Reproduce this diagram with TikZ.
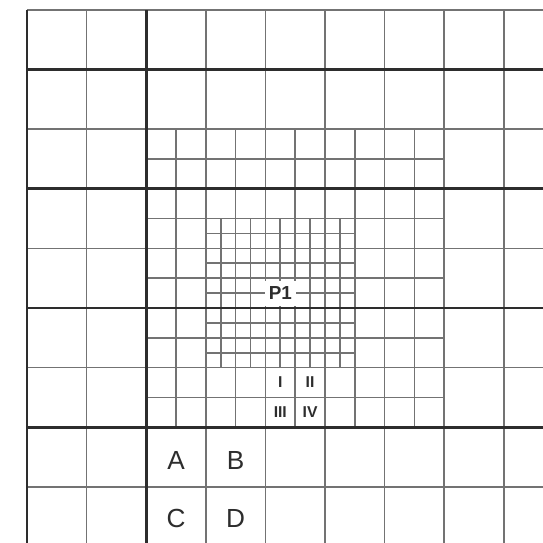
\documentclass[tikz,border=0pt]{standalone}
\usepackage{fontspec}
\setmainfont{Liberation Sans}
\usepackage{tikz}
\usetikzlibrary{positioning}

\definecolor{gridgray}{RGB}{115,115,115}
\definecolor{griddark}{RGB}{45,45,45}

\tikzset{
  thin grid/.style={draw=gridgray, line width=0.85pt},
  main rule/.style={draw=griddark, line width=1.4pt},
  letterlabel/.style={font=\fontsize{12.5}{12.5}\selectfont, text=griddark},
  numlabel/.style={font=\bfseries\fontsize{7.5}{7.5}\selectfont, text=griddark, inner sep=0pt},
}

\begin{document}
\begin{tikzpicture}
  \useasboundingbox[fill=white] (-0.453,0.168) rectangle (8.658,-8.943);
  \clip (-0.453,0.168) rectangle (8.658,-8.943);

  % large cells
  \foreach \x in {0,...,8}
    \draw[thin grid] (\x,0) -- (\x,-9);
  \foreach \y in {0,...,8}
    \draw[thin grid] (0,-\y) -- (9,-\y);

  % half cells
  \foreach \x in {2.5,3.5,4.5,5.5,6.5}
    \draw[thin grid] (\x,-2) -- (\x,-7);
  \foreach \y in {2.5,3.5,4.5,5.5,6.5}
    \draw[thin grid] (2,-\y) -- (7,-\y);

  % quarter cells
  \foreach \x in {3.25,3.75,4.25,4.75,5.25}
    \draw[thin grid] (\x,-3.5) -- (\x,-6);
  \foreach \y in {3.75,4.25,4.75,5.25,5.75}
    \draw[thin grid] (3,-\y) -- (5.5,-\y);

  % heavy rules
  \draw[main rule] (0,0) -- (0,-9);
  \draw[main rule] (2,0) -- (2,-9);
  \foreach \y in {1,3,5,7}
    \draw[main rule] (0,-\y) -- (9,-\y);

  \node[numlabel, font=\bfseries\fontsize{9}{9}\selectfont, fill=white,
        minimum width=0.52cm, minimum height=0.42cm] (p1) at (4.25,-4.75) {P1};

  \node[numlabel] (q1) at (4.25,-6.25) {I};
  \node[numlabel] (q2) at (4.75,-6.25) {II};
  \node[numlabel] (q3) at (4.25,-6.75) {III};
  \node[numlabel] (q4) at (4.75,-6.75) {IV};

  \node[letterlabel] (a) at (2.5,-7.56) {A};
  \node[letterlabel] (b) at (3.5,-7.56) {B};
  \node[letterlabel] (c) at (2.5,-8.53) {C};
  \node[letterlabel] (d) at (3.5,-8.53) {D};
\end{tikzpicture}
\end{document}
